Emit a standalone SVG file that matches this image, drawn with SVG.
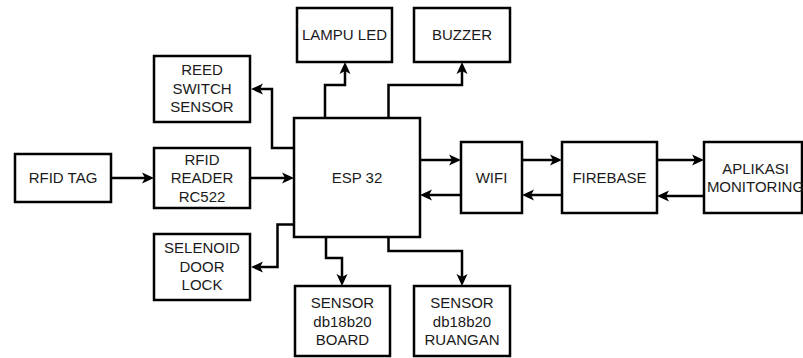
<svg xmlns="http://www.w3.org/2000/svg" width="803" height="358" viewBox="0 0 803 358">
<defs>
<style>
.box{fill:#fff;stroke:#000;stroke-width:2.5}
.t{font-family:"Liberation Sans",Arial,sans-serif;font-size:15px;fill:#1a1a1a;text-anchor:middle}
.c{fill:none;stroke:#000;stroke-width:2.5;marker-end:url(#arr)}
</style>
<marker id="arr" markerUnits="userSpaceOnUse" viewBox="0 0 12 12" refX="3" refY="6" markerWidth="12" markerHeight="12" orient="auto">
<path d="M0,0.5 L12,6 L0,11.5 L3,6 Z" fill="#000"/>
</marker>
</defs>
<rect width="803" height="358" fill="#fff"/>
<g id="rfid-tag"><rect class="box" x="15" y="154" width="96" height="48"/><text class="t" x="63" y="183.4">RFID TAG</text></g>
<g id="rfid-reader"><rect class="box" x="154" y="148" width="96" height="60"/><text class="t" x="202" y="165">RFID</text><text class="t" x="202" y="183.4">READER</text><text class="t" x="202" y="201.7">RC522</text></g>
<g id="reed"><rect class="box" x="154" y="56" width="96" height="66"/><text class="t" x="202" y="75.4">REED</text><text class="t" x="202" y="93.7">SWITCH</text><text class="t" x="202" y="112">SENSOR</text></g>
<g id="selenoid"><rect class="box" x="154" y="234" width="96" height="66"/><text class="t" x="202" y="253.4">SELENOID</text><text class="t" x="202" y="271.7">DOOR</text><text class="t" x="202" y="290">LOCK</text></g>
<g id="esp32"><rect class="box" x="294" y="118" width="126" height="119"/><text class="t" x="357" y="183.4">ESP 32</text></g>
<g id="lampu"><rect class="box" x="297" y="8" width="95" height="54"/><text class="t" x="344.5" y="40.4">LAMPU LED</text></g>
<g id="buzzer"><rect class="box" x="414" y="8" width="96" height="54"/><text class="t" x="462" y="40.4">BUZZER</text></g>
<g id="wifi"><rect class="box" x="461" y="142" width="61" height="71"/><text class="t" x="491.5" y="183.4">WIFI</text></g>
<g id="firebase"><rect class="box" x="562" y="142" width="95" height="71"/><text class="t" x="609.5" y="183.4">FIREBASE</text></g>
<g id="aplikasi"><rect class="box" x="704" y="142" width="98" height="71"/><text class="t" x="755.5" y="174">APLIKASI</text><text class="t" x="755.5" y="192.3">MONITORING</text></g>
<g id="sensor-board"><rect class="box" x="295" y="286" width="95" height="70"/><text class="t" x="342.5" y="308.3">SENSOR</text><text class="t" x="342.5" y="326.6">db18b20</text><text class="t" x="342.5" y="344.9">BOARD</text></g>
<g id="sensor-ruangan"><rect class="box" x="414" y="286" width="96" height="70"/><text class="t" x="462" y="308.3">SENSOR</text><text class="t" x="462" y="326.6">db18b20</text><text class="t" x="462" y="344.9">RUANGAN</text></g>
<g id="connectors">
<path class="c" d="M111,178 H145"/>
<path class="c" d="M250,178 H285"/>
<path class="c" d="M294,148 H272 V89 H260"/>
<path class="c" d="M294,224.5 H277.5 V267 H260"/>
<path class="c" d="M325,118 V85 H345 V71"/>
<path class="c" d="M388.5,118 V85 H462 V71"/>
<path class="c" d="M420,160 H452"/>
<path class="c" d="M461,195 H429"/>
<path class="c" d="M522,160 H553"/>
<path class="c" d="M562,195 H531"/>
<path class="c" d="M657,160 H695"/>
<path class="c" d="M704,196 H666"/>
<path class="c" d="M326,237 V258 H342 V277"/>
<path class="c" d="M388.5,237 V251 H462 V277"/>
</g>
</svg>
